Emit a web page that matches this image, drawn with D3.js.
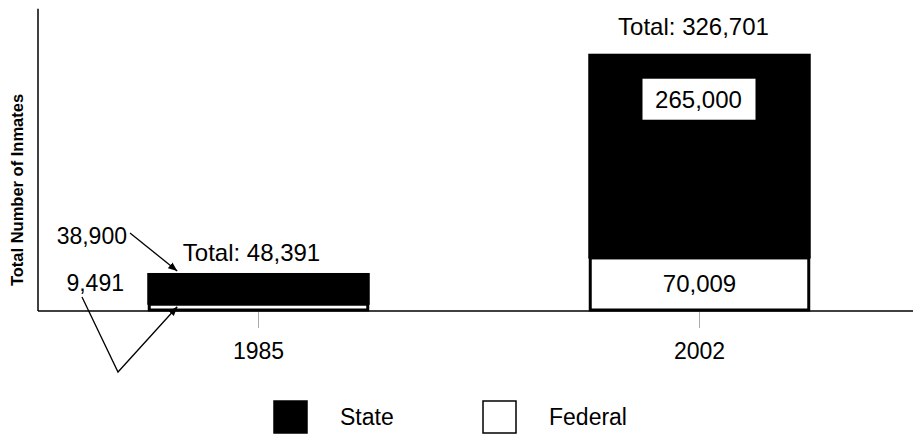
<!DOCTYPE html>
<html>
<head>
<meta charset="utf-8">
<script src="https://cdn.jsdelivr.net/npm/d3@7"></script>
<style>
  body { margin: 0; background: #fff; }
  svg { font-family: "Liberation Sans", Arial, sans-serif; }
</style>
</head>
<body>
<svg id="chart" width="913" height="437"></svg>
<script>
var years = ['1985', '2002'];
var federal = [9491, 70009];
var state = [38900, 265000];
var totalLabels = ['Total: 48,391', 'Total: 326,701'];
var stateLabels = ['38,900', '265,000'];
var federalLabels = ['9,491', '70,009'];
var legendNames = ['State', 'Federal'];
var legendColors = ['#000', '#fff'];

var svg = d3.select('#chart');

var x = d3.scaleBand()
    .domain(years)
    .range([38, 920])
    .paddingInner(0.5)
    .paddingOuter(0.25);

var y = d3.scaleLinear()
    .domain([0, 400000])
    .range([311, 5]);

var defs = svg.append('defs');
defs.append('marker')
    .attr('id', 'arrow')
    .attr('viewBox', '0 0 10 10')
    .attr('refX', 10).attr('refY', 5)
    .attr('markerWidth', 7).attr('markerHeight', 7)
    .attr('orient', 'auto')
    .append('path')
    .attr('d', 'M0,1 L10,5 L0,9 Z')
    .attr('fill', '#000');

// ticks
var xAxis = svg.append('g')
    .attr('transform', 'translate(0,312)')
    .call(d3.axisBottom(x).tickSize(16).tickPadding(15));
xAxis.select('.domain').remove();
xAxis.selectAll('line').attr('stroke', '#aaa');
xAxis.selectAll('text')
    .attr('font-size', 23)
    .attr('font-family', '"Liberation Sans", Arial, sans-serif')
    .attr('fill', '#000');

// axis lines
svg.append('line')
    .attr('x1', 38).attr('x2', 913)
    .attr('y1', y(0)).attr('y2', y(0))
    .attr('stroke', '#000').attr('stroke-width', 1.5);
svg.append('line')
    .attr('x1', 38).attr('x2', 38)
    .attr('y1', y(395000)).attr('y2', y(0))
    .attr('stroke', '#000').attr('stroke-width', 1.5);

svg.append('text')
    .attr('transform', 'translate(23,190) rotate(-90)')
    .attr('text-anchor', 'middle')
    .attr('font-size', 16.5)
    .attr('font-weight', 'bold')
    .text('Total Number of Inmates');

var bars = svg.selectAll('g.bar')
    .data(years)
    .enter().append('g')
    .attr('class', 'bar');

// state segment
bars.append('rect')
    .attr('x', function(d){return x(d);})
    .attr('width', x.bandwidth())
    .attr('y', function(d, i){return y(federal[i] + state[i]);})
    .attr('height', function(d, i){return y(federal[i]) - y(federal[i] + state[i]);})
    .attr('fill', '#000')
    .attr('stroke', '#000')
    .attr('stroke-width', 2);

// federal segment
bars.append('rect')
    .attr('x', function(d){return x(d) + 1;})
    .attr('width', x.bandwidth() - 2)
    .attr('y', function(d, i){return y(federal[i]) + 0.5;})
    .attr('height', function(d, i){return y(0) - y(federal[i]) - 1.5;})
    .attr('fill', '#fff')
    .attr('stroke', '#000')
    .attr('stroke-width', 3);

// totals
bars.append('text')
    .attr('x', function(d, i){return x(d) + x.bandwidth() / 2 + (i === 0 ? -7 : -6);})
    .attr('y', function(d, i){return y(federal[i] + state[i]) - (i === 0 ? 13 : 20);})
    .attr('text-anchor', 'middle')
    .attr('font-size', 24)
    .text(function(d, i){return totalLabels[i];});

// 2002 labels inside the bar
var cx2 = x('2002') + x.bandwidth() / 2;
var lab = svg.append('g');
var t265 = lab.append('text')
    .attr('x', cx2 - 1)
    .attr('y', y(federal[1] + state[1]) + 53)
    .attr('text-anchor', 'middle')
    .attr('font-size', 24)
    .text(stateLabels[1]);
var bb = t265.node().getBBox();
lab.insert('rect', 'text')
    .attr('x', cx2 - 57).attr('width', 113)
    .attr('y', bb.y + bb.height / 2 - 20.5).attr('height', 41)
    .attr('fill', '#fff');

svg.append('text')
    .attr('x', cx2)
    .attr('y', (y(0) + y(federal[1])) / 2 + 8)
    .attr('text-anchor', 'middle')
    .attr('font-size', 24)
    .text(federalLabels[1]);

// 1985 callouts
var bx = x('1985');
svg.append('text')
    .attr('x', 127).attr('y', 244)
    .attr('text-anchor', 'end')
    .attr('font-size', 23)
    .text(stateLabels[0]);
svg.append('text')
    .attr('x', 124).attr('y', 291)
    .attr('text-anchor', 'end')
    .attr('font-size', 23)
    .text(federalLabels[0]);

svg.append('line')
    .attr('x1', 130).attr('y1', 233)
    .attr('x2', bx + 29).attr('y2', y(federal[0] + state[0]) - 3)
    .attr('stroke', '#000').attr('stroke-width', 1.3)
    .attr('marker-end', 'url(#arrow)');
svg.append('path')
    .attr('d', 'M82,297 L118,372 L' + (bx + 29) + ',' + (y(federal[0]) + 3))
    .attr('fill', 'none')
    .attr('stroke', '#000').attr('stroke-width', 1.3)
    .attr('marker-end', 'url(#arrow)');

// legend
var legend = svg.selectAll('g.legend')
    .data(legendNames)
    .enter().append('g')
    .attr('class', 'legend')
    .attr('transform', function(d, i){return 'translate(' + (274 + i * 209) + ',401)';});
legend.append('rect')
    .attr('width', 33).attr('height', 32)
    .attr('fill', function(d, i){return legendColors[i];})
    .attr('stroke', '#000').attr('stroke-width', 1.5);
legend.append('text')
    .attr('x', 66).attr('y', 24)
    .attr('font-size', 23)
    .text(function(d){return d;});
</script>
</body>
</html>
